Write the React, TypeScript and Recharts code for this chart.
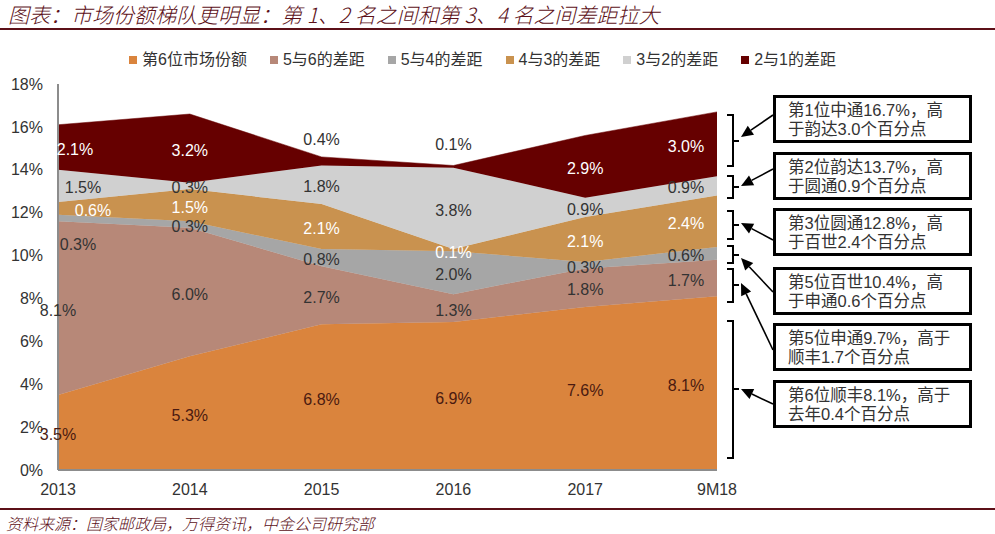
import React from "react";
import { AreaChart, Area, XAxis, YAxis, Legend, LabelList } from "recharts";

// data
const categories = ["2013", "2014", "2015", "2016", "2017", "9M18"];
const sixthShare = [3.5, 5.3, 6.8, 6.9, 7.6, 8.1];
const gap5to6 = [8.1, 6.0, 2.7, 1.3, 1.8, 1.7];
const gap5to4 = [0.3, 0.3, 0.8, 2.0, 0.3, 0.6];
const gap4to3 = [0.6, 1.5, 2.1, 0.1, 2.1, 2.4];
const gap3to2 = [1.5, 0.3, 1.8, 3.8, 0.9, 0.9];
const gap2to1 = [2.1, 3.2, 0.4, 0.1, 2.9, 3.0];
const yTicks = [0, 2, 4, 6, 8, 10, 12, 14, 16, 18];

const notes = [
  ["第1位中通16.7%，高", "于韵达3.0个百分点"],
  ["第2位韵达13.7%，高", "于圆通0.9个百分点"],
  ["第3位圆通12.8%，高", "于百世2.4个百分点"],
  ["第5位百世10.4%，高", "于申通0.6个百分点"],
  ["第5位申通9.7%，高于", "顺丰1.7个百分点"],
  ["第6位顺丰8.1%，高于", "去年0.4个百分点"],
];

const TITLE = "图表：市场份额梯队更明显：第 1、2 名之间和第 3、4 名之间差距拉大";
const SOURCE = "资料来源：国家邮政局，万得资讯，中金公司研究部";

const FONT = "'Liberation Sans', Arial, 'Noto Sans CJK SC', sans-serif";
const CJK = "'Noto Sans CJK SC', sans-serif";

const data = categories.map((name, i) => ({
  name,
  s1: sixthShare[i],
  s2: gap5to6[i],
  s3: gap5to4[i],
  s4: gap4to3[i],
  s5: gap3to2[i],
  s6: gap2to1[i],
}));

const series = [
  { key: "s1", name: "第6位市场份额", color: "#DA843D", text: "#4A1A10" },
  { key: "s2", name: "5与6的差距", color: "#B78878", text: "#333333" },
  { key: "s3", name: "5与4的差距", color: "#A6A6A6", text: "#333333" },
  { key: "s4", name: "4与3的差距", color: "#C9924F", text: "#FFFFFF" },
  { key: "s5", name: "3与2的差距", color: "#D0D0D0", text: "#333333" },
  { key: "s6", name: "2与1的差距", color: "#660000", text: "#FFFFFF" },
];

// plot geometry
const W = 995;
const H = 534;
const PLOT_TOP = 84;
const PLOT_BOTTOM = 470;
const PLOT_RIGHT = 717;
const PLOT_LEFT = 58;
const Y_MAX = 18;
const PX_PER_UNIT = (PLOT_BOTTOM - PLOT_TOP) / Y_MAX;

// where labels sit away from the band middle
const labelShift = (s: number, i: number): [number, number, string | null] => {
  if (s === 5 && (i === 2 || i === 3)) return [0, -24, "#333333"];
  if (i === 0) {
    const dx = [0, 0, 20, 35, 25, 17][s];
    return [dx, s === 2 ? 24 : 0, null];
  }
  if (i === categories.length - 1) return [-31, 0, null];
  return [0, 0, null];
};

const makeLabel = (s: number) => (props: any) => {
  const { x, y, value, index } = props;
  if (x == null || y == null || value == null) return null;
  const [dx, dy, override] = labelShift(s, index);
  const mid = y + (Number(value) * PX_PER_UNIT) / 2;
  return (
    <text
      x={x + dx}
      y={mid + dy + 7.6}
      textAnchor="middle"
      fontSize={16}
      fontFamily={FONT}
      fill={override || series[s].text}
    >
      {Number(value).toFixed(1) + "%"}
    </text>
  );
};

const LegendBox = () => (
  <div
    style={{
      display: "flex",
      paddingLeft: 129,
      fontFamily: FONT,
      fontSize: 16,
      lineHeight: "20px",
      color: "#333",
      whiteSpace: "nowrap",
    }}
  >
    {series.map((s) => (
      <div key={s.key} style={{ display: "flex", alignItems: "center", marginRight: 23 }}>
        <span style={{ width: 8, height: 8, background: s.color, marginRight: 5 }} />
        <span>{s.name}</span>
      </div>
    ))}
  </div>
);

// brackets [top, bottom, mid] and arrows from box edge to bracket
const brackets = [
  [115, 166, 141],
  [176, 198, 187],
  [211, 239, 225],
  [246, 263, 255],
  [269, 302, 285],
  [321, 458, 389],
];
const boxTops = [95, 152, 208, 267, 323, 380];
const arrowStarts = [115, 169, 240, 292, 350, 404];
const arrowTips = [137, 186, 223, 258, 283, 389];

const Arrow = ({ x1, y1, x2, y2 }: { x1: number; y1: number; x2: number; y2: number }) => {
  const a = Math.atan2(y2 - y1, x2 - x1);
  const len = 12;
  const hw = 5.5;
  const bx = x2 - len * Math.cos(a);
  const by = y2 - len * Math.sin(a);
  const px = -Math.sin(a) * hw;
  const py = Math.cos(a) * hw;
  return (
    <g>
      <line x1={x1} y1={y1} x2={bx} y2={by} stroke="#000" strokeWidth={1.6} />
      <polygon points={`${x2},${y2} ${bx + px},${by + py} ${bx - px},${by - py}`} fill="#000" />
    </g>
  );
};

const Notes = () => (
  <svg width={W} height={H} style={{ position: "absolute", left: 0, top: 0, pointerEvents: "none" }}>
    {brackets.map(([t, b, m], i) => (
      <path
        key={"b" + i}
        d={`M727,${t} H733 V${b} H727 M733,${m} H739`}
        fill="none"
        stroke="#000"
        strokeWidth={2}
      />
    ))}
    {notes.map((lines, i) => (
      <g key={"n" + i}>
        <rect x={774.5} y={boxTops[i] + 1.5} width={196} height={45} fill="#fff" stroke="#000" strokeWidth={3} />
        <text x={788} y={boxTops[i] + 21} fontSize={16.5} fontFamily={FONT} fill="#333">
          {lines[0]}
        </text>
        <text x={788} y={boxTops[i] + 40} fontSize={16.5} fontFamily={FONT} fill="#333">
          {lines[1]}
        </text>
        <Arrow x1={773} y1={arrowStarts[i]} x2={741} y2={arrowTips[i]} />
      </g>
    ))}
  </svg>
);

export default function App() {
  return (
    <div style={{ position: "absolute", left: 0, top: 0, width: W, height: H, background: "#fff" }}>
      <div
        style={{
          position: "absolute",
          left: 8,
          top: 2,
          fontFamily: CJK,
          fontStyle: "italic",
          fontWeight: 300,
          fontSize: 21,
          color: "#5C1018",
          whiteSpace: "nowrap",
          lineHeight: "24px",
        }}
      >
        {TITLE}
      </div>
      <div style={{ position: "absolute", left: 0, top: 28, width: W, height: 2, background: "#5C1018" }} />
      <AreaChart
        width={W}
        height={H}
        data={data}
        margin={{ top: PLOT_TOP, right: W - PLOT_RIGHT, bottom: H - PLOT_BOTTOM - 30, left: PLOT_LEFT - 50 }}
      >
        <XAxis
          dataKey="name"
          height={30}
          tickLine={false}
          tickSize={6}
          tickMargin={8}
          axisLine={{ stroke: "#8C8C8C", strokeWidth: 2 }}
          tick={{ fontSize: 16, fontFamily: FONT, fill: "#333" }}
          interval={0}
        />
        <YAxis
          width={50}
          domain={[0, Y_MAX]}
          ticks={yTicks}
          tickFormatter={(v) => v + "%"}
          tickLine={false}
          tickSize={6}
          tickMargin={9}
          axisLine={{ stroke: "#8C8C8C", strokeWidth: 2 }}
          tick={{ fontSize: 16, fontFamily: FONT, fill: "#333" }}
        />
        <Legend
          verticalAlign="top"
          content={<LegendBox />}
          wrapperStyle={{ top: 50, left: 0, width: W, height: 0 }}
        />
        {series.map((s, i) => (
          <Area
            key={s.key}
            dataKey={s.key}
            name={s.name}
            stackId="a"
            type="linear"
            fill={s.color}
            fillOpacity={1}
            stroke={s.color}
            strokeWidth={0.5}
            isAnimationActive={false}
          >
            <LabelList dataKey={s.key} content={makeLabel(i)} />
          </Area>
        ))}
      </AreaChart>
      <Notes />
      <div style={{ position: "absolute", left: 0, top: 508, width: W, height: 2, background: "#5C1018" }} />
      <div
        style={{
          position: "absolute",
          left: 6,
          top: 513,
          fontFamily: CJK,
          fontStyle: "italic",
          fontWeight: 300,
          fontSize: 16,
          color: "#5C1018",
          whiteSpace: "nowrap",
          lineHeight: "20px",
        }}
      >
        {SOURCE}
      </div>
    </div>
  );
}
